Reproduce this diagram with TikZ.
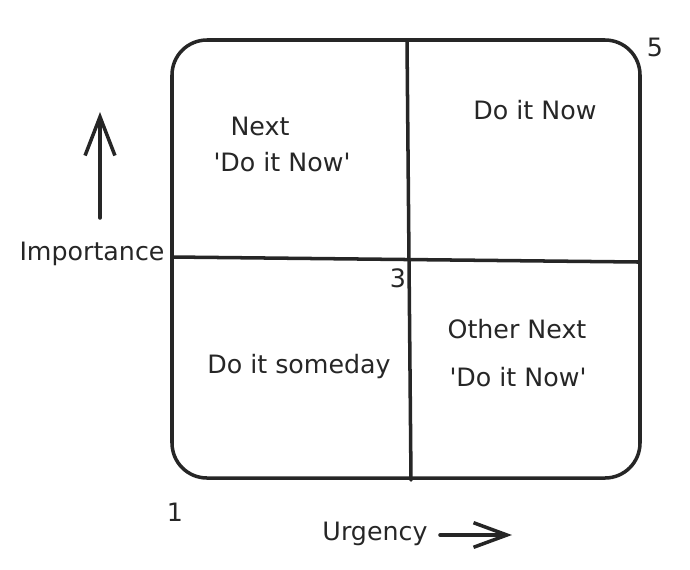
\documentclass[tikz,border=0pt]{standalone}
\usepackage{fontspec}
\setmainfont{DejaVu Sans}
\usetikzlibrary{arrows.meta,positioning,calc}

\begin{document}
\begin{tikzpicture}[x=0.02cm,y=-0.02cm,font=\fontsize{14.4}{17}\selectfont,line cap=round,
 frame/.style={draw=black!85,line width=2pt},
 axis/.style={draw=black!85,line width=2pt},
 lbl/.style={inner sep=0pt,text=black!85}]
\useasboundingbox (0,0) rectangle (690,569);
% matrix frame and the two dividing lines
\draw[frame,rounded corners=0.7cm] (172,40) rectangle (640,478);
\coordinate (vtop) at (407,41);
\coordinate (vbot) at (411,480);
\coordinate (hleft) at (172,257);
\coordinate (hright) at (638,262);
\draw[frame] (vtop) -- (vbot);
\draw[frame] (hleft) -- (hright);
% quadrant texts
\node[lbl] (q1) at (535,110) {Do it Now};
\node[lbl] (q2a) at (260,126) {Next};
\node[lbl] (q2b) at (282,162) {\textquotesingle Do it Now\textquotesingle};
\node[lbl] (q3) at (299,367) {Do it someday};
\node[lbl] (q4a) at (517,329) {Other Next};
\node[lbl] (q4b) at (518,377) {\textquotesingle Do it Now\textquotesingle};
% scale marks
\node[lbl] (max) at (655,47) {5};
\node[lbl] (mid) at (398,278) {3};
\node[lbl] (min) at (175,512) {1};
% axes
\node[lbl] (imp) at (92,254) {Importance};
\node[lbl] (urg) at (375,534) {Urgency};
\coordinate (impfrom) at (100,218);
\coordinate (impto) at (100,112);
\coordinate (urgfrom) at (440,535);
\coordinate (urgto) at (512,535);
\draw[axis,-{Straight Barb[length=22pt,width=17pt,line width=2pt]}] (impfrom) -- (impto);
\draw[axis,-{Straight Barb[length=19pt,width=14pt,line width=2pt]}] (urgfrom) -- (urgto);
\end{tikzpicture}
\end{document}
